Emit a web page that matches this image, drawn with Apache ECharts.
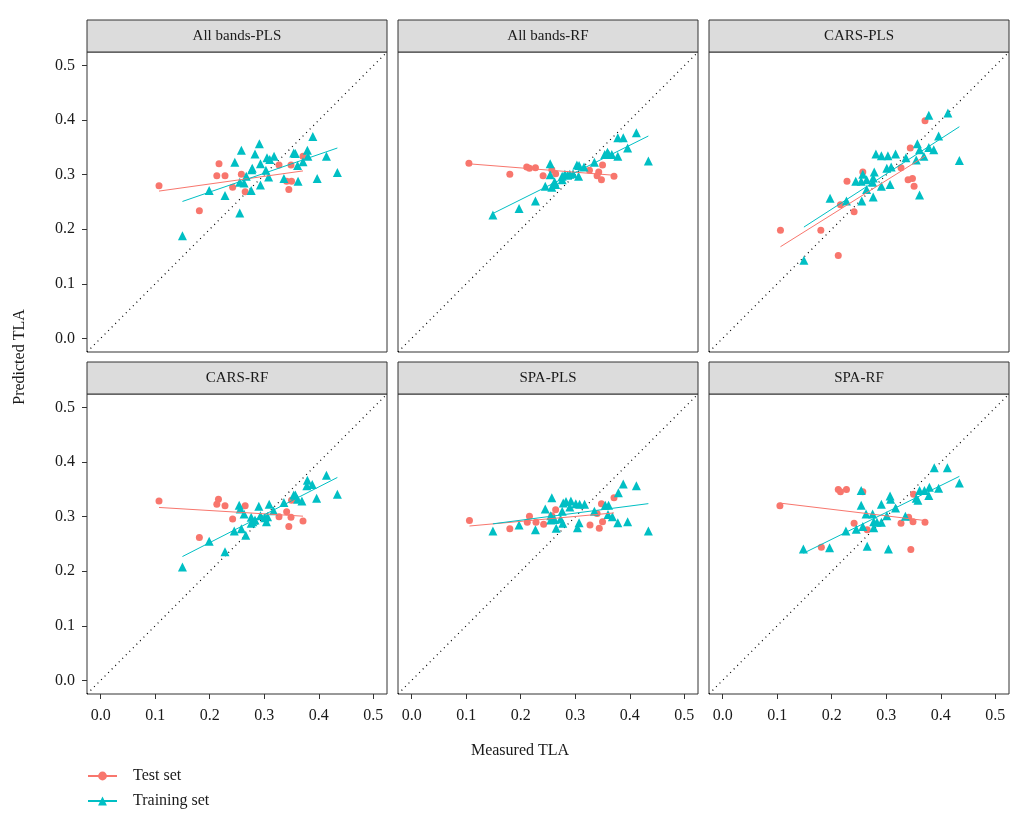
<!DOCTYPE html>
<html><head><meta charset="utf-8">
<script src="https://cdn.jsdelivr.net/npm/echarts@6/dist/echarts.min.js"></script>
<style>html,body{margin:0;padding:0;background:#fff}#c{width:1029px;height:823px}</style>
</head><body><div id="c"></div>
<script>
const panelTitles = ['All bands-PLS', 'All bands-RF', 'CARS-PLS', 'CARS-RF', 'SPA-PLS', 'SPA-RF'];
const tickValues = [0, 0.1, 0.2, 0.3, 0.4, 0.5];
const axisMin = -0.025, axisMax = 0.525;
const seriesNames = ['Test set', 'Training set'];

// ---- All bands-PLS ----
const test_AllPLS = [[0.107,0.280],[0.217,0.320],[0.213,0.298],[0.228,0.298],[0.258,0.301],[0.242,0.277],[0.265,0.269],[0.181,0.234],[0.327,0.318],[0.349,0.318],[0.371,0.334],[0.341,0.288],[0.350,0.288],[0.345,0.273]];
const train_AllPLS = [[0.150,0.188],[0.199,0.271],[0.228,0.262],[0.255,0.230],[0.246,0.323],[0.258,0.345],[0.283,0.338],[0.291,0.357],[0.278,0.312],[0.277,0.309],[0.293,0.320],[0.267,0.297],[0.263,0.285],[0.255,0.286],[0.276,0.271],[0.293,0.281],[0.303,0.308],[0.305,0.331],[0.310,0.328],[0.318,0.334],[0.308,0.296],[0.336,0.293],[0.354,0.340],[0.357,0.339],[0.361,0.317],[0.362,0.288],[0.371,0.324],[0.379,0.345],[0.380,0.334],[0.389,0.370],[0.397,0.293],[0.414,0.334],[0.434,0.304]];
const fitTest_AllPLS = [[0.107,0.270],[0.371,0.307]];
const fitTrain_AllPLS = [[0.150,0.251],[0.434,0.349]];

// ---- All bands-RF ----
const test_AllRF = [[0.105,0.321],[0.180,0.301],[0.211,0.314],[0.216,0.312],[0.227,0.313],[0.241,0.298],[0.257,0.309],[0.264,0.302],[0.326,0.308],[0.343,0.305],[0.350,0.318],[0.340,0.298],[0.348,0.291],[0.371,0.297]];
const train_AllRF = [[0.149,0.226],[0.197,0.238],[0.227,0.252],[0.254,0.320],[0.254,0.300],[0.245,0.279],[0.257,0.277],[0.262,0.287],[0.264,0.282],[0.276,0.297],[0.276,0.291],[0.281,0.301],[0.286,0.299],[0.290,0.301],[0.296,0.302],[0.306,0.297],[0.303,0.318],[0.307,0.317],[0.316,0.314],[0.335,0.323],[0.354,0.337],[0.359,0.341],[0.361,0.338],[0.367,0.337],[0.378,0.334],[0.378,0.368],[0.388,0.368],[0.396,0.349],[0.412,0.377],[0.434,0.325]];
const fitTest_AllRF = [[0.105,0.320],[0.371,0.299]];
const fitTrain_AllRF = [[0.149,0.229],[0.434,0.371]];

// ---- CARS-PLS ----
const test_CARSPLS = [[0.106,0.198],[0.180,0.198],[0.212,0.152],[0.216,0.245],[0.228,0.288],[0.241,0.232],[0.257,0.305],[0.327,0.313],[0.344,0.349],[0.340,0.291],[0.348,0.293],[0.351,0.279],[0.371,0.399]];
const train_CARSPLS = [[0.149,0.143],[0.197,0.257],[0.227,0.252],[0.255,0.252],[0.244,0.288],[0.254,0.288],[0.257,0.301],[0.264,0.291],[0.264,0.273],[0.275,0.286],[0.276,0.259],[0.276,0.294],[0.278,0.305],[0.281,0.338],[0.291,0.335],[0.291,0.279],[0.301,0.312],[0.303,0.335],[0.307,0.282],[0.309,0.314],[0.317,0.338],[0.336,0.331],[0.355,0.327],[0.357,0.357],[0.361,0.346],[0.361,0.263],[0.369,0.334],[0.378,0.350],[0.387,0.346],[0.396,0.371],[0.378,0.409],[0.413,0.413],[0.434,0.326]];
const fitTest_CARSPLS = [[0.106,0.168],[0.371,0.334]];
const fitTrain_CARSPLS = [[0.149,0.204],[0.434,0.388]];

// ---- CARS-RF ----
const test_CARSRF = [[0.107,0.329],[0.216,0.332],[0.213,0.323],[0.228,0.320],[0.265,0.320],[0.242,0.296],[0.181,0.262],[0.327,0.300],[0.341,0.309],[0.349,0.299],[0.350,0.330],[0.345,0.282],[0.371,0.292]];
const train_CARSRF = [[0.150,0.208],[0.199,0.255],[0.228,0.236],[0.245,0.274],[0.258,0.278],[0.266,0.266],[0.254,0.321],[0.256,0.314],[0.263,0.305],[0.276,0.299],[0.276,0.288],[0.279,0.291],[0.283,0.294],[0.290,0.319],[0.293,0.302],[0.301,0.298],[0.304,0.291],[0.306,0.300],[0.309,0.323],[0.317,0.311],[0.336,0.326],[0.354,0.340],[0.357,0.340],[0.361,0.332],[0.369,0.329],[0.379,0.367],[0.378,0.357],[0.388,0.359],[0.396,0.334],[0.414,0.376],[0.434,0.341]];
const fitTest_CARSRF = [[0.107,0.317],[0.371,0.301]];
const fitTrain_CARSRF = [[0.150,0.227],[0.434,0.372]];

// ---- SPA-PLS ----
const test_SPAPLS = [[0.106,0.293],[0.180,0.278],[0.212,0.290],[0.216,0.301],[0.228,0.290],[0.242,0.286],[0.257,0.302],[0.264,0.313],[0.327,0.285],[0.340,0.306],[0.344,0.279],[0.348,0.324],[0.350,0.291],[0.371,0.335]];
const train_SPAPLS = [[0.149,0.274],[0.197,0.285],[0.227,0.276],[0.245,0.314],[0.257,0.335],[0.255,0.302],[0.255,0.294],[0.262,0.295],[0.265,0.279],[0.273,0.296],[0.276,0.310],[0.277,0.288],[0.278,0.325],[0.283,0.328],[0.290,0.318],[0.292,0.329],[0.301,0.324],[0.307,0.289],[0.304,0.280],[0.308,0.323],[0.317,0.323],[0.335,0.310],[0.355,0.321],[0.361,0.321],[0.360,0.304],[0.368,0.300],[0.378,0.289],[0.379,0.344],[0.388,0.360],[0.396,0.291],[0.412,0.357],[0.434,0.274]];
const fitTest_SPAPLS = [[0.106,0.283],[0.371,0.307]];
const fitTrain_SPAPLS = [[0.149,0.287],[0.434,0.324]];

// ---- SPA-RF ----
const test_SPARF = [[0.105,0.320],[0.181,0.244],[0.212,0.350],[0.216,0.346],[0.227,0.350],[0.241,0.288],[0.257,0.346],[0.265,0.276],[0.327,0.288],[0.341,0.299],[0.349,0.291],[0.350,0.341],[0.371,0.290],[0.345,0.240]];
const train_SPARF = [[0.148,0.241],[0.196,0.243],[0.226,0.274],[0.245,0.277],[0.254,0.348],[0.254,0.321],[0.257,0.282],[0.263,0.305],[0.265,0.246],[0.275,0.305],[0.277,0.291],[0.277,0.280],[0.283,0.290],[0.291,0.323],[0.291,0.290],[0.301,0.302],[0.304,0.241],[0.307,0.338],[0.308,0.332],[0.317,0.316],[0.335,0.301],[0.355,0.334],[0.358,0.330],[0.361,0.348],[0.370,0.348],[0.378,0.339],[0.379,0.354],[0.388,0.390],[0.396,0.352],[0.412,0.390],[0.434,0.362]];
const fitTest_SPARF = [[0.105,0.325],[0.371,0.293]];
const fitTrain_SPARF = [[0.148,0.233],[0.434,0.374]];

const panelTest = [test_AllPLS, test_AllRF, test_CARSPLS, test_CARSRF, test_SPAPLS, test_SPARF];
const panelTrain = [train_AllPLS, train_AllRF, train_CARSPLS, train_CARSRF, train_SPAPLS, train_SPARF];
const panelFitTest = [fitTest_AllPLS, fitTest_AllRF, fitTest_CARSPLS, fitTest_CARSRF, fitTest_SPAPLS, fitTest_SPARF];
const panelFitTrain = [fitTrain_AllPLS, fitTrain_AllRF, fitTrain_CARSPLS, fitTrain_CARSRF, fitTrain_SPAPLS, fitTrain_SPARF];

const RED = '#F8766D', CYAN = '#00BFC4';
const FONT = '"Liberation Serif", "DejaVu Serif", serif';
const colLeft = [87, 398, 709], rowTop = [52, 394], SIZE = 300, STRIP = 32;

const grids = [], xAxes = [], yAxes = [], series = [], graphics = [];

// legend-only series
series.push({ name: seriesNames[0], type: 'line', data: [], xAxisIndex: 0, yAxisIndex: 0,
  symbol: 'circle', symbolSize: 8, itemStyle: { color: RED }, lineStyle: { color: RED, width: 1 } });
series.push({ name: seriesNames[1], type: 'line', data: [], xAxisIndex: 0, yAxisIndex: 0,
  symbol: 'triangle', symbolSize: 9, itemStyle: { color: CYAN }, lineStyle: { color: CYAN, width: 1 } });

for (let i = 0; i < 6; i++) {
  const r = Math.floor(i / 3), c = i % 3;
  const L = colLeft[c], T = rowTop[r];
  grids.push({ left: L, top: T, width: SIZE, height: SIZE, show: true,
    borderColor: '#333', borderWidth: 1, backgroundColor: '#fff', containLabel: false });
  const showX = r === 1, showY = c === 0;
  xAxes.push({ type: 'value', gridIndex: i, min: axisMin, max: axisMax, position: 'bottom',
    axisLine: { show: false, onZero: false }, splitLine: { show: false },
    axisTick: { show: showX, length: 5, customValues: tickValues, lineStyle: { color: '#333' } },
    axisLabel: { show: showX, customValues: tickValues, margin: 14, fontSize: 16, fontFamily: FONT, color: '#1a1a1a',
      formatter: v => v.toFixed(1) } });
  yAxes.push({ type: 'value', gridIndex: i, min: axisMin, max: axisMax, position: 'left',
    axisLine: { show: false, onZero: false }, splitLine: { show: false },
    axisTick: { show: showY, length: 5, customValues: tickValues, lineStyle: { color: '#333' } },
    axisLabel: { show: showY, customValues: tickValues, margin: 12, fontSize: 16, fontFamily: FONT, color: '#1a1a1a',
      formatter: v => v.toFixed(1) } });

  series.push({ name: 'diag' + i, type: 'line', xAxisIndex: i, yAxisIndex: i,
    data: [[axisMin, axisMin], [axisMax, axisMax]], symbol: 'none', silent: true,
    lineStyle: { color: '#000', width: 1.2, type: [1, 4] }, z: 1 });
  series.push({ name: 'test' + i, type: 'scatter', xAxisIndex: i, yAxisIndex: i, data: panelTest[i],
    symbol: 'circle', symbolSize: 7, itemStyle: { color: RED, opacity: 1 }, z: 2 });
  series.push({ name: 'train' + i, type: 'scatter', xAxisIndex: i, yAxisIndex: i, data: panelTrain[i],
    symbol: 'triangle', symbolSize: 9, itemStyle: { color: CYAN, opacity: 1 }, z: 3 });
  series.push({ name: 'fitTest' + i, type: 'line', xAxisIndex: i, yAxisIndex: i, data: panelFitTest[i],
    symbol: 'none', silent: true, lineStyle: { color: RED, width: 1 }, z: 4 });
  series.push({ name: 'fitTrain' + i, type: 'line', xAxisIndex: i, yAxisIndex: i, data: panelFitTrain[i],
    symbol: 'none', silent: true, lineStyle: { color: CYAN, width: 1 }, z: 4 });

  graphics.push({ type: 'rect', shape: { x: L, y: T - STRIP, width: SIZE, height: STRIP },
    style: { fill: '#dcdcdc', stroke: '#333', lineWidth: 1 } });
  graphics.push({ type: 'text', x: L + SIZE / 2, y: T - STRIP / 2,
    style: { text: panelTitles[i], align: 'center', verticalAlign: 'middle', font: '15px ' + FONT, fill: '#1a1a1a' } });
}

graphics.push({ type: 'text', x: 520, y: 751,
  style: { text: 'Measured TLA', align: 'center', verticalAlign: 'middle', font: '16px ' + FONT, fill: '#1a1a1a' } });
graphics.push({ type: 'text', x: 20, y: 357, rotation: Math.PI / 2,
  style: { text: 'Predicted TLA', align: 'center', verticalAlign: 'middle', font: '16px ' + FONT, fill: '#1a1a1a' } });

const chart = echarts.init(document.getElementById('c'), null, { renderer: 'canvas' });
chart.setOption({
  animation: false,
  backgroundColor: '#fff',
  grid: grids, xAxis: xAxes, yAxis: yAxes, series: series,
  legend: { data: seriesNames, orient: 'vertical', left: 87, top: 768, padding: 0, itemWidth: 29, itemHeight: 11, itemGap: 9,
    selectedMode: false, textStyle: { fontFamily: FONT, fontSize: 16, color: '#1a1a1a', padding: [0, 0, 0, 11] } },
  graphic: graphics
});
</script></body></html>
